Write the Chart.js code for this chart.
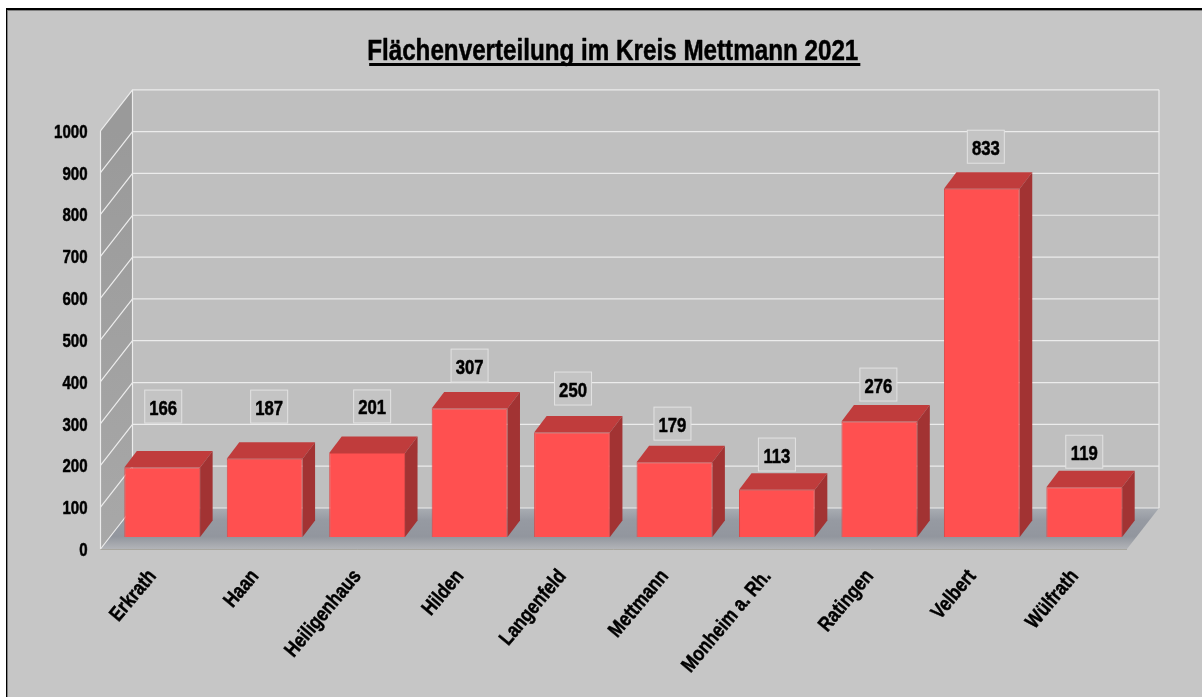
<!DOCTYPE html>
<html lang="de">
<head>
<meta charset="utf-8">
<title>Flächenverteilung im Kreis Mettmann 2021</title>
<style>
  html, body { margin: 0; padding: 0; background: #fff; }
  canvas { display: block; }
</style>
<script src="https://cdn.jsdelivr.net/npm/chart.js@4/dist/chart.umd.min.js"></script>
</head>
<body>
<canvas id="flaechenChart" width="1202" height="697"></canvas>
<script>
/** Data */
const CITIES = ["Erkrath", "Haan", "Heiligenhaus", "Hilden", "Langenfeld", "Mettmann", "Monheim a. Rh.", "Ratingen", "Velbert", "Wülfrath"];
const AREAS = [166, 187, 201, 307, 250, 179, 113, 276, 833, 119];
const TITLE = "Flächenverteilung im Kreis Mettmann 2021";

/** Look of the 3D box, not data */
const FONT_FAMILY = '"Liberation Sans", Arial, sans-serif';
const TEXT_SQUEEZE = 0.835;          // original text is horizontally squashed
const WALL_DX = 32, WALL_DY = -41;   // front plane -> back wall
const BOX_EXTRA = 2;                 // box is slightly wider than the categories
const BAR_DX = 10.5, BAR_DY = -12;   // front plane -> bar front face
const CUBE_DX = 12.5, CUBE_DY = -16.5; // bar depth
// label boxes sit a bit unevenly above the bars in the original
const LABEL_GAP = [44.5, 35.7, 30, 26.5, 27.4, 22, 18.7, 20.5, 25.4, 19];
const LABEL_NUDGE = [1, 4.5, 5, 0, 1, -2, 0, -1, 4, 0];

const canvas = document.getElementById("flaechenChart");
const canvasCtx = canvas.getContext("2d");

// squash all text along its own direction and thicken it a little,
// Chart.js has no option for this
const plainFillText = canvasCtx.fillText.bind(canvasCtx);
canvasCtx.fillText = (text, x, y) => {
  canvasCtx.save();
  canvasCtx.translate(x, y);
  canvasCtx.scale(TEXT_SQUEEZE, 1);
  canvasCtx.strokeStyle = canvasCtx.fillStyle;
  canvasCtx.lineWidth = 0.5;
  canvasCtx.lineJoin = "round";
  canvasCtx.strokeText(text, 0, 0);
  plainFillText(text, 0, 0);
  canvasCtx.restore();
};

/** Page frame: white edge, black line, grey panel */
const framePlugin = {
  id: "frame",
  beforeDraw(chart) {
    const { ctx, width, height } = chart;
    ctx.save();
    ctx.fillStyle = "#ffffff";
    ctx.fillRect(0, 0, width, height);
    ctx.fillStyle = "#000000";
    ctx.fillRect(6, 8, width - 6, height - 8);
    ctx.fillStyle = "#808080";
    ctx.fillRect(7, 10, width - 7, height - 10);
    ctx.fillStyle = "#c6c6c6";
    ctx.fillRect(8, 11, width - 8, height - 11);
    ctx.restore();
  },
};

/** Walls, floor and grid lines of the 3D box */
const wallsPlugin = {
  id: "walls",
  beforeDatasetsDraw(chart) {
    const { ctx, scales: { x, y } } = chart;
    const left = x.left, right = x.right + BOX_EXTRA;
    const y0 = y.getPixelForValue(0);
    const yMax = y.getPixelForValue(1000);
    ctx.save();

    // back wall
    ctx.fillStyle = "#bfbfbf";
    ctx.fillRect(left + WALL_DX, yMax + WALL_DY, right - left, y0 - yMax);

    // side wall
    const sideGrad = ctx.createLinearGradient(0, yMax, 0, y0);
    sideGrad.addColorStop(0, "#9a9a9a");
    sideGrad.addColorStop(1, "#a8a8a8");
    ctx.fillStyle = sideGrad;
    ctx.beginPath();
    ctx.moveTo(left, yMax);
    ctx.lineTo(left + WALL_DX, yMax + WALL_DY);
    ctx.lineTo(left + WALL_DX, y0 + WALL_DY);
    ctx.lineTo(left, y0);
    ctx.closePath();
    ctx.fill();

    // floor
    const floorGrad = ctx.createLinearGradient(0, y0 + WALL_DY, 0, y0);
    floorGrad.addColorStop(0, "#a9adb3");
    floorGrad.addColorStop(0.3, "#969aa2");
    floorGrad.addColorStop(0.7, "#92969e");
    floorGrad.addColorStop(1, "#b2b4b8");
    ctx.fillStyle = floorGrad;
    ctx.beginPath();
    ctx.moveTo(left, y0);
    ctx.lineTo(right, y0);
    ctx.lineTo(right + WALL_DX, y0 + WALL_DY);
    ctx.lineTo(left + WALL_DX, y0 + WALL_DY);
    ctx.closePath();
    ctx.fill();
    ctx.strokeStyle = "#a8a69f";
    ctx.lineWidth = 1;
    ctx.beginPath();
    ctx.moveTo(left, y0 + 0.5);
    ctx.lineTo(right, y0 + 0.5);
    ctx.stroke();

    // grid lines
    ctx.strokeStyle = "#ececec";
    ctx.lineWidth = 1.2;
    y.ticks.forEach((t) => {
      const py = y.getPixelForValue(t.value);
      ctx.beginPath();
      ctx.moveTo(left, py);
      ctx.lineTo(left + WALL_DX, py + WALL_DY);
      ctx.lineTo(right + WALL_DX, py + WALL_DY);
      ctx.stroke();
    });
    ctx.beginPath();
    ctx.moveTo(left, yMax);
    ctx.lineTo(left, y0);
    ctx.moveTo(left + WALL_DX, yMax + WALL_DY);
    ctx.lineTo(left + WALL_DX, y0 + WALL_DY);
    ctx.moveTo(right + WALL_DX, yMax + WALL_DY);
    ctx.lineTo(right + WALL_DX, y0 + WALL_DY);
    ctx.stroke();
    ctx.restore();
  },
  // bars are drawn by the library, just moved into the box
  beforeDatasetDraw(chart) {
    chart.ctx.save();
    chart.ctx.translate(BAR_DX, BAR_DY);
  },
  afterDatasetDraw(chart, args) {
    const { ctx } = chart;
    args.meta.data.forEach((bar) => {
      const l = bar.x - bar.width / 2, r = bar.x + bar.width / 2;
      // top face
      ctx.fillStyle = "#c03c3c";
      ctx.beginPath();
      ctx.moveTo(l, bar.y);
      ctx.lineTo(l + CUBE_DX, bar.y + CUBE_DY);
      ctx.lineTo(r + CUBE_DX, bar.y + CUBE_DY);
      ctx.lineTo(r, bar.y);
      ctx.closePath();
      ctx.fill();
      // side face
      ctx.fillStyle = "#a23333";
      ctx.beginPath();
      ctx.moveTo(r, bar.y);
      ctx.lineTo(r + CUBE_DX, bar.y + CUBE_DY);
      ctx.lineTo(r + CUBE_DX, bar.base + CUBE_DY);
      ctx.lineTo(r, bar.base);
      ctx.closePath();
      ctx.fill();
    });
    ctx.restore();
  },
};

/** Value boxes and the title underline */
const labelsPlugin = {
  id: "labels",
  afterDatasetsDraw(chart) {
    const { ctx } = chart;
    const meta = chart.getDatasetMeta(0);
    ctx.save();
    ctx.textAlign = "center";
    ctx.textBaseline = "middle";
    ctx.font = `bold 20px ${FONT_FAMILY}`;
    meta.data.forEach((bar, i) => {
      const cx = bar.x + BAR_DX + LABEL_NUDGE[i];
      const bottom = bar.y + BAR_DY - LABEL_GAP[i];
      ctx.fillStyle = "#c4c4c4";
      ctx.strokeStyle = "#e2e2e2";
      ctx.lineWidth = 1;
      ctx.fillRect(cx - 18.5, bottom - 33, 37, 33);
      ctx.strokeRect(cx - 18.5, bottom - 33, 37, 33);
      ctx.fillStyle = "#000000";
      ctx.fillText(String(AREAS[i]), cx, bottom - 14);
    });

    // title underline
    const tb = chart.titleBlock;
    ctx.font = `bold 29px ${FONT_FAMILY}`;
    const w = ctx.measureText(TITLE).width * TEXT_SQUEEZE;
    const cx = (tb.left + tb.right) / 2 + 2;
    ctx.fillStyle = "#000000";
    ctx.fillRect(cx - w / 2, 63, w, 3);
    ctx.restore();
  },
};

new Chart(canvas, {
  type: "bar",
  data: {
    labels: CITIES,
    datasets: [{
      data: AREAS,
      backgroundColor: "#ff5050",
      borderColor: "#e04646",
      borderWidth: 1,
      barPercentage: 0.74,
      categoryPercentage: 1,
      clip: false,
    }],
  },
  options: {
    responsive: false,
    animation: false,
    devicePixelRatio: 1,
    layout: { padding: { left: 0, top: 0, right: 77, bottom: 0 } },
    plugins: {
      legend: { display: false },
      tooltip: { enabled: false },
      title: {
        display: true,
        text: TITLE,
        align: "center",
        fullSize: false,
        color: "#000000",
        font: { family: FONT_FAMILY, size: 29, weight: "bold" },
        padding: { top: 35, bottom: 61 },
      },
    },
    scales: {
      x: {
        grid: { display: false },
        border: { display: false },
        afterFit: (s) => { s.height = 148; },
        ticks: {
          autoSkip: false,
          minRotation: 50,
          maxRotation: 50,
          padding: 8,
          labelOffset: 1,
          color: "#000000",
          font: { family: FONT_FAMILY, size: 20.5, weight: "bold" },
        },
      },
      y: {
        min: 0,
        max: 1000,
        grid: { display: false },
        border: { display: false },
        afterFit: (s) => { s.width = 100.5; },
        ticks: {
          stepSize: 100,
          padding: 5,
          labelOffset: 2,
          color: "#000000",
          font: { family: FONT_FAMILY, size: 18, weight: "bold" },
          callback: (value) => String(value),
        },
      },
    },
  },
  plugins: [framePlugin, wallsPlugin, labelsPlugin],
});
</script>
</body>
</html>
